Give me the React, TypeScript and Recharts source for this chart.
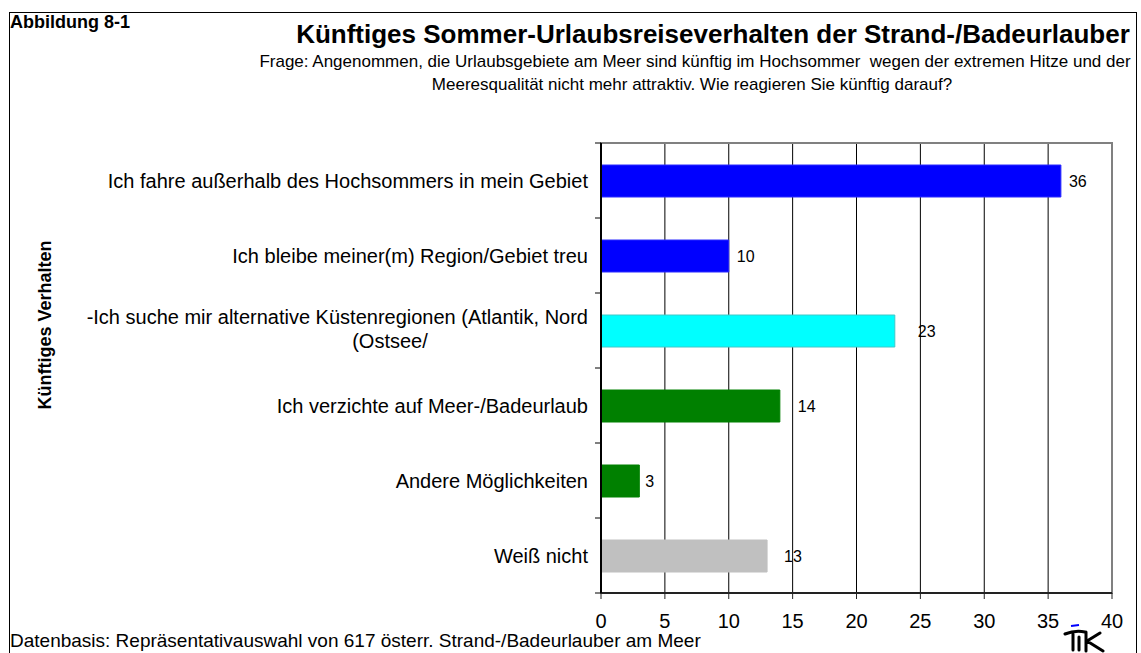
import React from "react";
import {
  BarChart,
  Bar,
  XAxis,
  YAxis,
  CartesianGrid,
  Cell,
  LabelList,
  ReferenceArea,
} from "recharts";

const categories = [
  "Ich fahre außerhalb des Hochsommers in mein Gebiet",
  "Ich bleibe meiner(m) Region/Gebiet treu",
  "-Ich suche mir alternative Küstenregionen (Atlantik, Nord\n(Ostsee/",
  "Ich verzichte auf Meer-/Badeurlaub",
  "Andere Möglichkeiten",
  "Weiß nicht",
];
const values = [36, 10, 23, 14, 3, 13];
const barColors = ["#0000FF", "#0000FF", "#00FFFF", "#008000", "#008000", "#C0C0C0"];
const barStrokes = ["#2a2aff", "#2a2aff", "#40c8c8", "#008000", "#008000", "#C0C0C0"];
const xTicks = [0, 5, 10, 15, 20, 25, 30, 35, 40];
const labelOffsets = [8, 8, 23, 18, 6, 17];

const data = categories.map((c, i) => ({ name: c, value: values[i] }));

const W = 1141;
const H = 653;
const PLOT_TOP = 143;
const PLOT_BOTTOM = 593;
const HALF_BAND = (PLOT_BOTTOM - PLOT_TOP) / categories.length / 2;
const FONT = "'Liberation Sans', Arial, sans-serif";

const CategoryTick = (props: any) => {
  const { y, payload, index } = props;
  const lines = String(payload.value).split("\n");
  const ax = 601;
  const lx = ax - 13;
  return (
    <g>
      <line x1={ax - 6} x2={ax} y1={y - HALF_BAND} y2={y - HALF_BAND} stroke="#000" strokeWidth={1} />
      {index === categories.length - 1 && (
        <line x1={ax - 6} x2={ax} y1={y + HALF_BAND} y2={y + HALF_BAND} stroke="#000" strokeWidth={1} />
      )}
      {lines.length === 1 ? (
        <text x={lx} y={y} dy="0.35em" textAnchor="end" fontSize={20} fill="#000" fontFamily={FONT}>
          {lines[0]}
        </text>
      ) : (
        <g>
          <text x={lx} y={y - 14} dy="0.35em" textAnchor="end" fontSize={20} fill="#000" fontFamily={FONT}>
            {lines[0]}
          </text>
          <text x={lx - 198} y={y + 10} dy="0.35em" textAnchor="middle" fontSize={20} fill="#000" fontFamily={FONT}>
            {lines[1]}
          </text>
        </g>
      )}
    </g>
  );
};

const ValueLabel = (props: any) => {
  const { x, y, width, height, value, index } = props;
  return (
    <text
      x={x + width + labelOffsets[index]}
      y={y + height / 2}
      dy="0.35em"
      fontSize={16}
      fill="#000"
      fontFamily={FONT}
    >
      {value}
    </text>
  );
};

export default function App() {
  return (
    <div style={{ position: "absolute", left: 0, top: 0, width: W, height: H, background: "#fff", overflow: "hidden" }}>
      <BarChart
        width={W}
        height={H}
        data={data}
        layout="vertical"
        margin={{ top: PLOT_TOP, right: W - 1112, bottom: 30, left: 0 }}
        barSize={32}
      >
        <CartesianGrid horizontal={false} stroke="#000" strokeWidth={1} />
        <ReferenceArea x1={0} x2={40} fill="none" stroke="#808080" strokeWidth={2} ifOverflow="extendDomain" />
        <XAxis
          type="number"
          domain={[0, 40]}
          ticks={xTicks}
          height={30}
          tickSize={6}
          tickMargin={15}
          axisLine={{ stroke: "#222", strokeWidth: 2 }}
          tickLine={{ stroke: "#222" }}
          tick={{ fontSize: 20, fill: "#000", fontFamily: FONT }}
          interval={0}
        />
        <YAxis
          type="category"
          dataKey="name"
          width={601}
          tickLine={false}
          axisLine={{ stroke: "#000", strokeWidth: 2 }}
          tick={<CategoryTick />}
          interval={0}
        />
        <Bar dataKey="value" isAnimationActive={false}>
          {data.map((d, i) => (
            <Cell key={i} fill={barColors[i]} stroke={barStrokes[i]} strokeWidth={1} />
          ))}
          <LabelList dataKey="value" content={<ValueLabel />} />
        </Bar>
      </BarChart>
      <svg width={W} height={H} style={{ position: "absolute", left: 0, top: 0, pointerEvents: "none" }}>
        <rect x={9.5} y={12.5} width={1127} height={700} fill="none" stroke="#000" strokeWidth={1} />
        <text x={10} y={28} fontSize={18} fontWeight="bold" fontFamily={FONT} fill="#000">
          Abbildung 8-1
        </text>
        <text x={713} y={43} textAnchor="middle" fontSize={26} fontWeight="bold" fontFamily={FONT} fill="#000">
          Künftiges Sommer-Urlaubsreiseverhalten der Strand-/Badeurlauber
        </text>
        <text x={695} y={67} textAnchor="middle" fontSize={17} fontFamily={FONT} fill="#000" style={{ whiteSpace: "pre" }}>
          {"Frage: Angenommen, die Urlaubsgebiete am Meer sind künftig im Hochsommer  wegen der extremen Hitze und der"}
        </text>
        <text x={692} y={90} textAnchor="middle" fontSize={17} fontFamily={FONT} fill="#000">
          Meeresqualität nicht mehr attraktiv. Wie reagieren Sie künftig darauf?
        </text>
        <text
          x={0}
          y={0}
          transform="translate(51,325) rotate(-90)"
          textAnchor="middle"
          fontSize={18}
          fontWeight="bold"
          fontFamily={FONT}
          fill="#000"
        >
          Künftiges Verhalten
        </text>
        <text x={10} y={647} fontSize={19} fontFamily={FONT} fill="#000">
          Datenbasis: Repräsentativauswahl von 617 österr. Strand-/Badeurlauber am Meer
        </text>
        <line x1={1071} x2={1079} y1={626} y2={625} stroke="#0000FF" strokeWidth={2} />
        <path
          d="M1065 634 Q1075 630 1085 632 M1073 634 L1073 650 M1079 637 L1079 650 M1086 632 L1086 651 M1087 641 L1100 633 M1087 641 L1103 651"
          fill="none"
          stroke="#000"
          strokeWidth={3}
          strokeLinecap="round"
        />
      </svg>
    </div>
  );
}
